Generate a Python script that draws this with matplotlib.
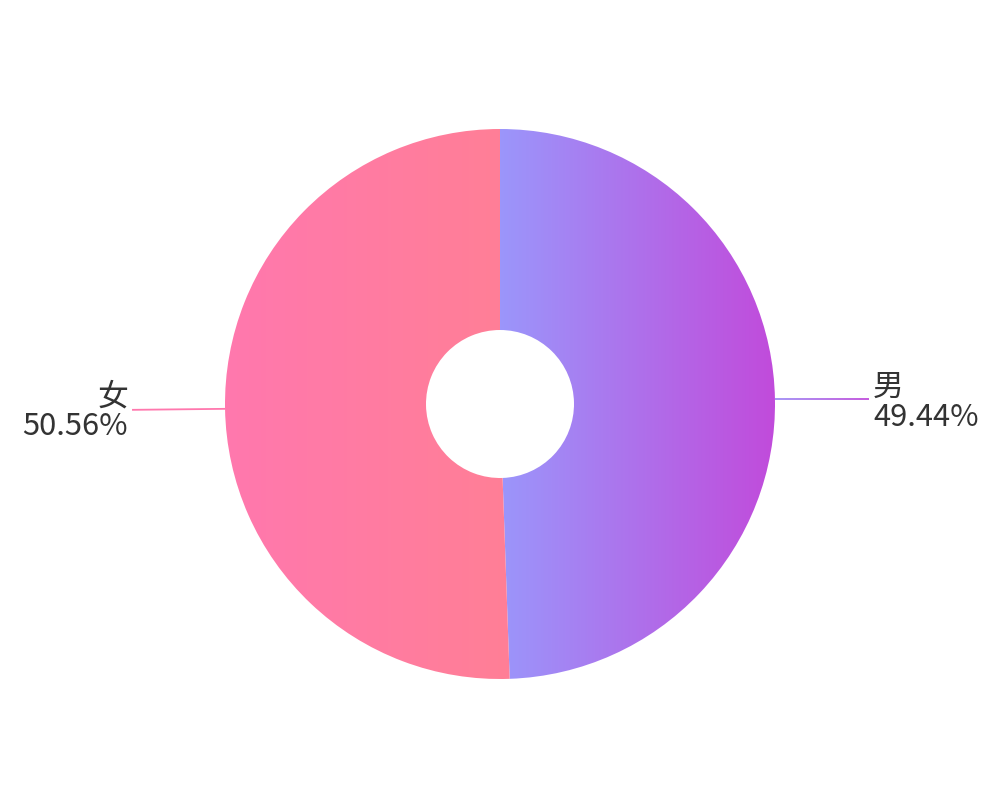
import numpy as np
import matplotlib
matplotlib.use("Agg")
import matplotlib.pyplot as plt
from matplotlib.colors import LinearSegmentedColormap
from matplotlib.collections import LineCollection

plt.rcParams['font.family'] = ['Noto Sans CJK SC', 'DejaVu Sans']

categories = ["男", "女"]
values = [49.44, 50.56]
gradients = [("#9b96fb", "#c14bdb"), ("#ff78ae", "#ff7f96")]
label_text = "#333333"

fig = plt.figure(figsize=(10, 8), dpi=100)
ax = fig.add_axes([0, 0, 1, 1])

cx, cy = 500, 396
R, r_in = 275, 74

wedges, _ = ax.pie(values, startangle=90, counterclock=False, radius=R,
                   center=(cx, cy), frame=True,
                   wedgeprops=dict(width=R - r_in, linewidth=0, edgecolor='none'))

for w, (c0, c1), cat, val in zip(wedges, gradients, categories, values):
    w.set_facecolor('none')
    t1, t2 = w.theta1, w.theta2
    angs = np.radians(np.linspace(t1, t2, 200))
    xs = cx + R * np.cos(angs)
    x0, x1 = xs.min(), xs.max()
    if abs(x1 - x0) < 1:
        x1 = x0 + 1
    cmap = LinearSegmentedColormap.from_list("g", [c0, c1])
    grad = np.linspace(0, 1, 256).reshape(1, -1)
    im = ax.imshow(grad, cmap=cmap, extent=(x0, x1, cy - R, cy + R),
                   aspect='auto', zorder=1, interpolation='bilinear')
    im.set_clip_path(w)

    mid = np.radians((t1 + t2) / 2)
    px, py = cx + R * np.cos(mid), cy + R * np.sin(mid)
    if np.cos(mid) >= 0:
        ex = px + 94
        n = 50
        xx = np.linspace(px, ex, n)
        segs = [[(xx[i], py), (xx[i + 1], py)] for i in range(n - 1)]
        cols = LinearSegmentedColormap.from_list("l", ["#a08ef5", "#c04ddb"])(np.linspace(0, 1, n - 1))
        ax.add_collection(LineCollection(segs, colors=cols, linewidths=1.3, zorder=2))
        ax.text(ex + 4, py - 3, f"{cat}\n{val:.2f}%", ha='left', va='center',
                fontsize=22.2, color=label_text, linespacing=0.95)
    else:
        ex = px - 93
        ax.plot([px, ex], [py, py - 1], color=c0, lw=1.3, zorder=2, solid_capstyle='butt')
        ax.text(ex - 4, py - 3, f"{cat}\n{val:.2f}%", ha='right', va='center',
                fontsize=22.2, color=label_text, linespacing=0.95, multialignment='right')

ax.set_xlim(0, 1000)
ax.set_ylim(0, 800)
ax.set_aspect('equal')
ax.axis('off')

fig.savefig("out.png", dpi=100, facecolor='white')
